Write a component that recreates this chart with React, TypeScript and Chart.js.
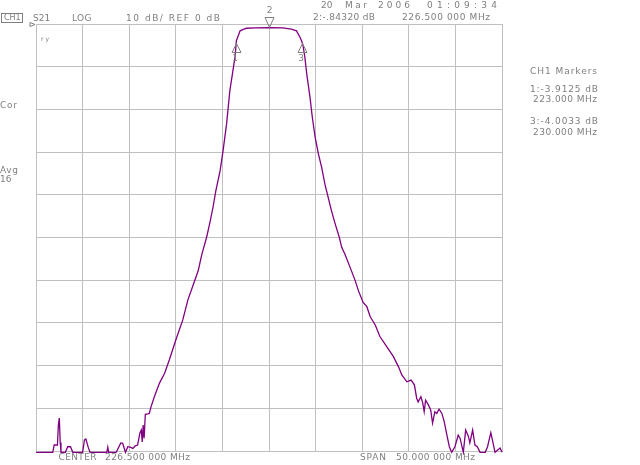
import React, { useEffect, useRef } from "react";
import { Chart, registerables } from "chart.js";

Chart.register(...registerables);

// Trace: frequency (MHz) and S21 (dB)
const freqMHz = [
  201.5, 203.3, 203.45, 203.8, 203.9, 204.0, 204.1, 204.18, 204.65, 204.9,
  205.2, 205.45, 206.5, 206.7, 206.85, 207.1, 207.3, 209.1, 209.2, 209.3,
  210.1, 210.4, 210.6, 210.8, 211.1, 211.35, 211.6, 211.9, 212.15, 212.4,
  212.65, 212.8, 212.9, 213.0, 213.1, 213.23, 213.5, 213.65, 213.85, 214.2,
  214.75, 215.3, 215.8, 216.5, 217.25, 217.8, 218.4, 218.9, 219.3, 219.8,
  220.2, 220.5, 220.8, 221.25, 221.55, 221.95, 222.3, 222.85, 223.0, 223.4,
  223.8, 224.1, 225.0, 226.5, 228.0, 228.9, 229.45, 229.8, 230.0, 230.15,
  230.35, 230.55, 230.9, 231.15, 231.45, 231.8, 232.15, 232.5, 232.85, 233.2,
  233.6, 234.05, 234.3, 234.65, 235.2, 235.75, 236.1, 236.6, 237.0, 237.35,
  237.9, 238.4, 239.15, 239.85, 240.4, 240.75, 241.3, 241.75, 242.1, 242.35,
  242.5, 242.8, 243.0, 243.15, 243.3, 243.6, 243.85, 244.05, 244.3, 244.5,
  244.75, 245.05, 245.3, 245.55, 245.85, 246.1, 246.45, 246.8, 247.0, 247.35,
  247.6, 247.9, 248.05, 248.35, 248.6, 248.85, 249.15, 249.7, 249.95, 250.3,
  250.55, 250.75, 251.0, 251.3, 251.5,
];
const s21dB = [
  -100.3, -100.3, -98.6, -98.6, -93.9, -92.3, -98.0, -100.3, -100.3, -99.0,
  -99.0, -100.3, -100.3, -97.4, -97.2, -99.1, -100.3, -100.3, -99.1, -100.3,
  -100.3, -99.0, -98.1, -98.2, -100.3, -99.0, -99.1, -99.4, -98.8, -98.6,
  -95.8, -95.1, -97.9, -93.9, -97.0, -91.4, -91.3, -91.2, -89.6, -87.3,
  -84.1, -81.8, -78.7, -74.0, -69.3, -64.6, -60.9, -57.8, -53.9, -50.0,
  -46.1, -42.8, -39.0, -34.4, -30.0, -23.4, -15.6, -7.8, -3.9, -1.6,
  -1.2, -1.0, -0.9, -0.84, -0.9, -1.2, -1.6, -3.0, -4.0, -5.0,
  -7.8, -11.7, -17.2, -21.9, -26.5, -30.4, -33.6, -37.5, -40.6, -43.7,
  -46.8, -50.0, -52.3, -53.9, -57.0, -60.1, -62.5, -65.2, -66.2, -68.5,
  -70.5, -73.2, -75.6, -77.9, -80.3, -82.2, -83.8, -83.4, -84.5, -87.7,
  -88.5, -87.3, -88.8, -90.8, -88.1, -89.2, -90.4, -93.5, -90.8, -91.2,
  -90.2, -91.2, -93.1, -95.9, -99.0, -100.3, -99.0, -96.3, -97.0, -100.3,
  -95.1, -96.6, -98.1, -95.1, -98.6, -99.0, -100.3, -100.3, -99.0, -95.7,
  -98.2, -100.3, -99.8, -99.3, -100.3,
];

// Graticule (10 divisions each way)
const xGridMHz = [201.5, 206.5, 211.5, 216.5, 221.5, 226.5, 231.5, 236.5, 241.5, 246.5, 251.5];
const yGridDb = [-100, -90, -80, -70, -60, -50, -40, -30, -20, -10, 0];

// Markers
const markerNo = ["1", "2", "3"];
const markerFreq = [223.0, 226.5, 230.0];
const markerDb = [-3.9125, -0.8432, -4.0033];
const activeMarker = 1;

const GRAY = "#7f7f7f";
const FAMILY = "'DejaVu Sans'";

const markerPlugin = {
  id: "vnaMarkers",
  afterDatasetsDraw(chart: any) {
    const { ctx, scales } = chart;
    const x = scales.x;
    const y = scales.y;
    ctx.save();
    ctx.strokeStyle = GRAY;
    ctx.fillStyle = GRAY;
    ctx.lineWidth = 1;
    ctx.font = "9px " + FAMILY;
    ctx.textAlign = "center";
    ctx.textBaseline = "middle";
    markerFreq.forEach((f, i) => {
      const px = Math.round(x.getPixelForValue(f)) + 0.5;
      const py = Math.round(y.getPixelForValue(markerDb[i])) + 0.5;
      ctx.beginPath();
      if (i === activeMarker) {
        ctx.moveTo(px, py - 1);
        ctx.lineTo(px - 4.5, py - 11);
        ctx.lineTo(px + 4.5, py - 11);
        ctx.closePath();
        ctx.stroke();
        ctx.fillText(markerNo[i], px, py - 18);
      } else {
        ctx.moveTo(px, py + 2);
        ctx.lineTo(px - 4.5, py + 11);
        ctx.lineTo(px + 4.5, py + 11);
        ctx.closePath();
        ctx.stroke();
        ctx.fillText(markerNo[i], px - 1.5, py + 17);
      }
    });
    // reference level arrow
    const ry = Math.round(y.getPixelForValue(0)) + 0.5;
    const lx = x.left;
    ctx.beginPath();
    ctx.moveTo(lx - 6, ry - 2);
    ctx.lineTo(lx - 1, ry);
    ctx.lineTo(lx - 6, ry + 2);
    ctx.closePath();
    ctx.stroke();
    ctx.restore();
  },
};

let mctx: CanvasRenderingContext2D | null = null;
function measure(s: string, font: string): number {
  if (!mctx) mctx = document.createElement("canvas").getContext("2d");
  if (!mctx) return s.length * 5;
  mctx.font = font;
  return mctx.measureText(s).width;
}

type T = { s: string; x: number; x2: number; top: number; size?: number };
const texts: T[] = [
  { s: "CH1", x: 4, x2: 20, top: 15, size: 8 },
  { s: "S21", x: 33, x2: 47, top: 15 },
  { s: "LOG", x: 72, x2: 91.5, top: 15 },
  { s: "10 dB/ REF 0 dB", x: 126, x2: 220, top: 15 },
  { s: "20", x: 321, x2: 331, top: 2 },
  { s: "Mar", x: 345, x2: 367, top: 2 },
  { s: "2006", x: 378, x2: 410, top: 2 },
  { s: "01:09:34", x: 427, x2: 497, top: 2 },
  { s: "2:-.84320 dB", x: 313, x2: 375, top: 14 },
  { s: "226.500 000 MHz", x: 402, x2: 490, top: 14 },
  { s: "CH1 Markers", x: 530, x2: 597, top: 68 },
  { s: "1:-3.9125 dB", x: 530, x2: 598, top: 86 },
  { s: "223.000 MHz", x: 533, x2: 597, top: 96 },
  { s: "3:-4.0033 dB", x: 530, x2: 598, top: 118 },
  { s: "230.000 MHz", x: 533, x2: 597, top: 129 },
  { s: "Cor", x: 0, x2: 17, top: 102 },
  { s: "Avg", x: 0, x2: 18, top: 167 },
  { s: "16", x: 0, x2: 10, top: 176 },
  { s: "CENTER", x: 58.5, x2: 96.5, top: 454 },
  { s: "226.500 000 MHz", x: 105, x2: 190, top: 454 },
  { s: "SPAN", x: 360, x2: 386, top: 454 },
  { s: "50.000 000 MHz", x: 396, x2: 475, top: 454 },
  { s: "ry", x: 41, x2: 49, top: 37, size: 6 },
];

function Txt({ t }: { t: T }) {
  const size = t.size || 9;
  const font = size + "px " + FAMILY;
  const w = measure(t.s, font);
  const n = t.s.length;
  const ls = n > 1 ? Math.max(0, (t.x2 - t.x - w) / (n - 1)) : 0;
  return (
    <div
      style={{
        position: "absolute",
        left: t.x,
        top: t.top - Math.round(size * 0.12),
        font: font,
        lineHeight: size + "px",
        letterSpacing: ls + "px",
        whiteSpace: "pre",
        color: GRAY,
      }}
    >
      {t.s}
    </div>
  );
}

export default function App() {
  const ref = useRef<HTMLCanvasElement>(null);
  useEffect(() => {
    if (!ref.current) return;
    const chart = new Chart(ref.current, {
      type: "line",
      data: {
        datasets: [
          {
            data: freqMHz.map((f, i) => ({ x: f, y: s21dB[i] })),
            borderColor: "#800080",
            borderWidth: 1.3,
            pointRadius: 0,
            tension: 0,
            fill: false,
            clip: 4,
          } as any,
        ],
      },
      options: {
        animation: false,
        responsive: false,
        maintainAspectRatio: false,
        devicePixelRatio: 1,
        layout: { padding: { left: 36, right: 138, top: 24, bottom: 14 } },
        plugins: { legend: { display: false }, tooltip: { enabled: false }, title: { display: false } },
        events: [],
        scales: {
          x: {
            type: "linear",
            min: xGridMHz[0],
            max: xGridMHz[xGridMHz.length - 1],
            afterBuildTicks: (s: any) => {
              s.ticks = xGridMHz.map((v) => ({ value: v }));
            },
            ticks: { display: false },
            grid: { color: "#c0c0c0", lineWidth: 1, drawTicks: false },
            border: { display: true, color: "#c0c0c0", width: 1 },
          },
          y: {
            type: "linear",
            min: yGridDb[0],
            max: yGridDb[yGridDb.length - 1],
            afterBuildTicks: (s: any) => {
              s.ticks = yGridDb.map((v) => ({ value: v }));
            },
            ticks: { display: false },
            grid: { color: "#c0c0c0", lineWidth: 1, drawTicks: false },
            border: { display: true, color: "#c0c0c0", width: 1 },
          },
        },
      },
      plugins: [markerPlugin],
    });
    return () => chart.destroy();
  }, []);

  return (
    <div style={{ position: "absolute", left: 0, top: 0, width: 640, height: 465, background: "#fff", overflow: "hidden" }}>
      <canvas ref={ref} width={640} height={465} style={{ position: "absolute", left: 0, top: 0, width: 640, height: 465 }} />
      <div
        style={{
          position: "absolute",
          left: 1,
          top: 13,
          width: 22,
          height: 10,
          border: "1px solid " + GRAY,
          boxSizing: "border-box",
        }}
      />
      {texts.map((t, i) => (
        <Txt key={i} t={t} />
      ))}
    </div>
  );
}
